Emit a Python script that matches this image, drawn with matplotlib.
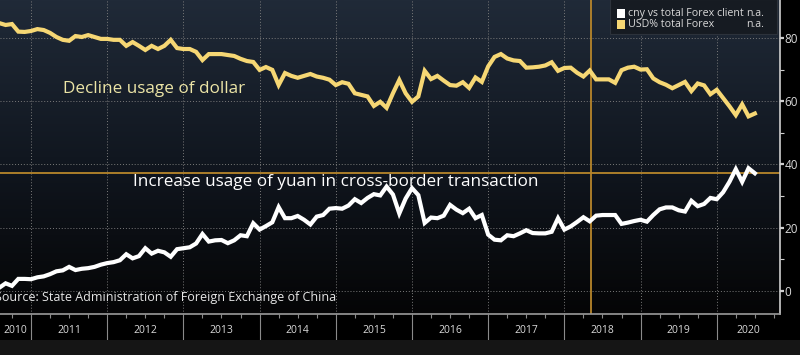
import numpy as np
import matplotlib
matplotlib.use("Agg")
import matplotlib.pyplot as plt
from matplotlib.colors import LinearSegmentedColormap
from matplotlib.patches import Rectangle

# monthly series, Aug 2010 .. Jul 2020
start_year = 2010 + 7 / 12.0

usd_share = [
    84.7, 84.1, 84.4, 82.0, 81.9, 82.2, 82.8, 82.5, 81.6, 80.3,
    79.4, 79.1, 80.6, 80.3, 80.9, 80.3, 79.7, 79.7, 79.4, 79.4,
    77.5, 78.7, 77.5, 76.2, 77.5, 76.5, 77.5, 79.4, 76.8, 76.5,
    76.5, 75.6, 73.0, 74.9, 74.9, 74.9, 74.6, 74.3, 73.4, 72.7,
    72.4, 69.9, 70.8, 69.9, 65.1, 68.9, 68.0, 67.4, 68.0, 68.6,
    67.8, 67.4, 66.8, 65.1, 66.0, 65.5, 62.5, 62.0, 61.5, 58.5,
    59.8, 57.9, 62.5, 66.7, 62.5, 59.8, 61.5, 69.6, 67.0, 68.0,
    66.5, 65.1, 64.9, 66.0, 64.2, 67.5, 66.1, 71.0, 74.0, 74.9,
    73.5, 72.9, 72.7, 70.6, 70.7, 70.9, 71.3, 72.3, 69.6, 70.5,
    70.6, 69.0, 67.8, 69.7, 66.9, 66.9, 66.9, 65.8, 69.8, 70.6,
    70.9, 70.0, 70.1, 67.2, 66.0, 65.2, 64.1, 65.1, 66.1, 63.2,
    65.6, 65.0, 62.2, 63.6, 61.0, 58.4, 55.6, 59.0, 55.2, 56.1,
]

cny_share = [
    1.0, 2.4, 1.6, 3.8, 3.8, 3.7, 4.3, 4.6, 5.3, 6.2,
    6.5, 7.6, 6.6, 7.0, 7.2, 7.6, 8.3, 8.8, 9.1, 9.7,
    11.6, 10.3, 11.0, 13.5, 11.8, 12.7, 12.2, 10.8, 13.2, 13.5,
    13.8, 15.0, 18.0, 15.6, 16.0, 16.1, 15.1, 16.0, 17.6, 17.3,
    21.4, 19.4, 20.5, 21.7, 26.5, 23.0, 23.0, 23.7, 22.5, 21.0,
    23.5, 24.0, 26.0, 26.2, 26.0, 27.0, 29.0, 27.8, 29.4, 30.6,
    30.2, 33.0, 30.5, 24.5, 29.2, 32.5, 30.3, 21.5, 23.2, 23.0,
    23.8, 27.2, 25.7, 24.6, 26.0, 23.0, 24.0, 17.8, 16.2, 16.0,
    17.6, 17.3, 18.2, 19.2, 18.3, 18.2, 18.2, 18.7, 23.0, 19.4,
    20.4, 21.8, 23.3, 22.0, 23.8, 24.0, 24.0, 24.0, 21.2, 21.6,
    22.1, 22.5, 21.9, 24.0, 25.8, 26.4, 26.4, 25.5, 25.1, 28.5,
    26.8, 27.5, 29.4, 29.0, 31.2, 34.5, 38.5, 34.5, 38.8, 37.2,
]

years = list(range(2010, 2021))
legend_names = ["cny vs total Forex client", "USD% total Forex"]
ref_level = 37.2
ref_date = 2018.35

x = start_year + np.arange(len(usd_share)) / 12.0
xmin, xmax = 2010.593, 2020.83
ymin, ymax = -7.3, 92.0

yellow = "#f6d774"
white = "#ffffff"
orange = "#b8862b"
grid_col = "#7a7a7a"
text_col = "#d9d9d9"

fig = plt.figure(figsize=(8, 3.55), dpi=100, facecolor="black")
ax = fig.add_axes([0, 41 / 355, 780 / 800, 314 / 355])
ax.set_facecolor("black")

# dark navy to black gradient behind the plot
cmap = LinearSegmentedColormap.from_list("bg", ["#050506", "#111720", "#202a38"])
grad = np.linspace(0, 1, 256).reshape(-1, 1)
ax.imshow(grad, extent=[0, 1, 0, 1], transform=ax.transAxes, aspect="auto",
          cmap=cmap, origin="lower", zorder=0)

# bottom grey band
fig.patches.append(Rectangle((0, 0), 1, 15 / 355, transform=fig.transFigure,
                             facecolor="#151515", edgecolor="none", zorder=0))

ax.set_xlim(xmin, xmax)
ax.set_ylim(ymin, ymax)

# grid
for yr in years[1:]:
    ax.axvline(yr, color=grid_col, lw=0.7, ls=(0, (1, 2)), zorder=1)
for yv in [0, 20, 40, 60, 80]:
    ax.axhline(yv, color=grid_col, lw=0.7, ls=(0, (1, 2)), zorder=1)

# reference lines
ax.axhline(ref_level, color=orange, lw=1.3, zorder=2)
ax.axvline(ref_date, color=orange, lw=1.3, zorder=2)

ax.plot(x, usd_share, color=yellow, lw=3.0, solid_joinstyle="miter", zorder=3)
ax.plot(x, cny_share, color=white, lw=3.0, solid_joinstyle="miter", zorder=3)

# spines
for s in ["top", "left"]:
    ax.spines[s].set_visible(False)
ax.spines["right"].set_color("#cfcfcf")
ax.spines["bottom"].set_color("#9a9a9a")
ax.spines["right"].set_linewidth(1.2)
ax.spines["bottom"].set_linewidth(1.2)

# y axis on the right
ax.yaxis.tick_right()
ax.set_yticks([0, 20, 40, 60, 80])
ax.set_yticks([10, 30, 50, 70], minor=True)
ax.tick_params(axis="y", which="major", colors="#cfcfcf", labelcolor=text_col,
               length=3, width=1.6, labelsize=8.5, pad=0.5)
ax.tick_params(axis="y", which="minor", colors="#cfcfcf", length=3, width=0.8)
for lab in ax.get_yticklabels():
    lab.set_family("Open Sans")

# x axis: year separators and quarter ticks
ax.set_xticks(years[1:])
ax.set_xticks([yr + q / 4.0 for yr in years for q in (1, 2, 3)
               if xmin < yr + q / 4.0 < xmax], minor=True)
ax.tick_params(axis="x", which="major", colors="#8a8a8a", length=26, width=0.8,
               labelbottom=False)
ax.tick_params(axis="x", which="minor", colors="#8a8a8a", length=3, width=0.8)

for yr in years:
    lo = max(yr, xmin)
    hi = min(yr + 1, xmax)
    ax.text((lo + hi) / 2, -0.052, str(yr), transform=ax.get_xaxis_transform(),
            ha="center", va="center", color=text_col, fontsize=7.5,
            family="Open Sans")

# annotations
ax.text(0.081, 0.717, "Decline usage of dollar", transform=ax.transAxes,
        color="#ece5a6", fontsize=12.3, family="Open Sans", va="center")
ax.text(0.1705, 0.42, "Increase usage of yuan in cross-border transaction",
        transform=ax.transAxes, color=white, fontsize=12.3, family="Open Sans",
        va="center")
ax.text(-0.006, 0.051, "Source: State Administration of Foreign Exchange of China",
        transform=ax.transAxes, color="#e6e6e6", fontsize=9.0, family="Open Sans",
        va="center")

# legend box
ax.add_patch(Rectangle((0.782, 0.892), 0.214, 0.11, transform=ax.transAxes,
                       facecolor="#161b22", edgecolor="#2c323b", lw=0.8,
                       zorder=4, clip_on=False))
for i, (name, col) in enumerate(zip(legend_names, [white, yellow])):
    yy = 0.958 - i * 0.036
    ax.add_patch(Rectangle((0.791, yy - 0.014), 0.0105, 0.028,
                           transform=ax.transAxes, facecolor=col,
                           edgecolor="none", zorder=5))
    ax.text(0.805, yy, name, transform=ax.transAxes, color=text_col,
            fontsize=7.7, family="Open Sans", va="center", zorder=5)
    ax.text(0.98, yy, "n.a.", transform=ax.transAxes, color=text_col,
            fontsize=7.7, family="Open Sans", va="center", ha="right", zorder=5)

fig.savefig("out.png", dpi=100, facecolor="black")
